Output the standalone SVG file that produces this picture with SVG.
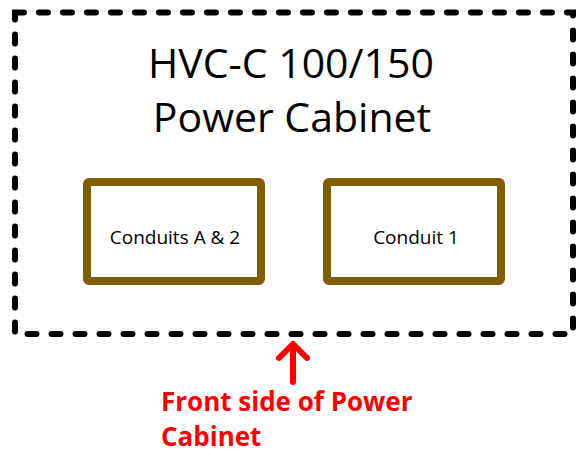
<svg xmlns="http://www.w3.org/2000/svg" width="577" height="453" viewBox="0 0 577 453">
<style>
.cab{fill:none;stroke:#000;stroke-width:6;stroke-linecap:round;stroke-dasharray:9 15}
.box{fill:#fff;stroke:#7F6000;stroke-width:8;stroke-linejoin:round}
.title{font-family:"Open Sans","Liberation Sans",sans-serif;font-size:41px;fill:#000;text-anchor:middle}
.lbl{font-family:"Open Sans","Liberation Sans",sans-serif;font-size:19px;fill:#000;text-anchor:middle}
.note{font-family:"Open Sans","Liberation Sans",sans-serif;font-size:26px;font-weight:bold;fill:#FF0000}
.arr{fill:none;stroke:#FF0000;stroke-width:6;stroke-linecap:round;stroke-linejoin:round}
</style>
<g id="cabinet">
<rect class="cab" x="15" y="12.5" width="558" height="321.5"/>
<text class="title" x="291" y="78">HVC-C 100/150</text>
<text class="title" x="292" y="132">Power Cabinet</text>
</g>
<g id="conduits-a2">
<rect class="box" x="87" y="182" width="174" height="99" rx="2"/>
<text class="lbl" x="175" y="244">Conduits A &amp; 2</text>
</g>
<g id="conduit-1">
<rect class="box" x="327" y="182" width="174" height="99" rx="2"/>
<text class="lbl" x="416" y="244">Conduit 1</text>
</g>
<g id="connectors">
<path class="arr" d="M293 382 V345 M279 358 L293 344 L307 358"/>
</g>
<g id="note">
<text class="note" x="161" y="411">Front side of Power</text>
<text class="note" x="161" y="446">Cabinet</text>
</g>
</svg>
